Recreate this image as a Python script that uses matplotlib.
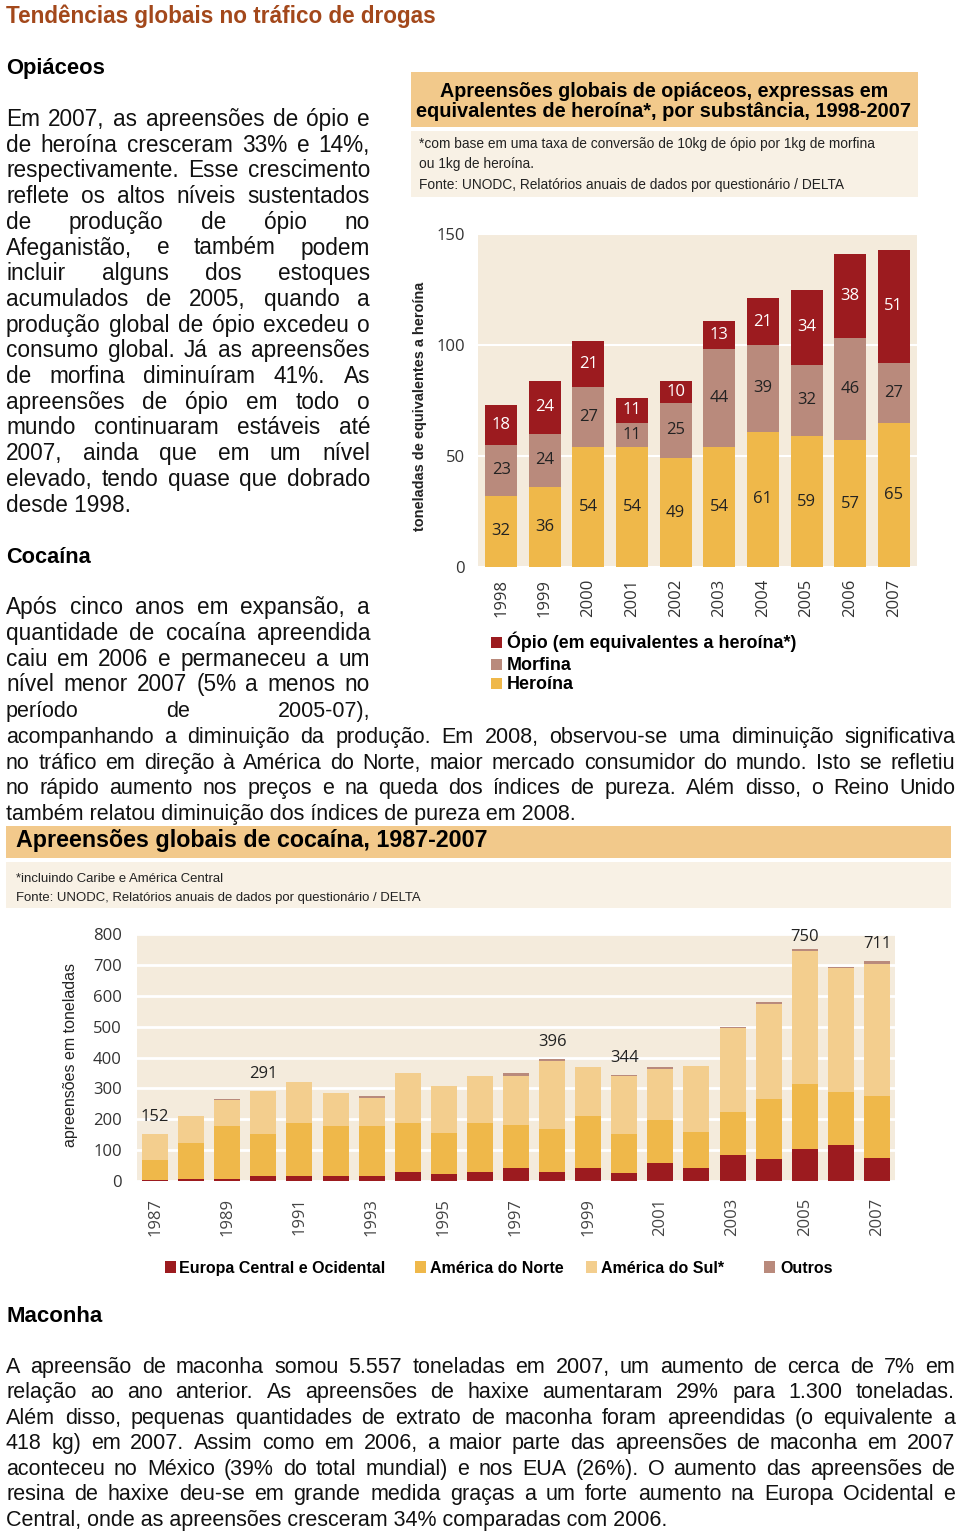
import matplotlib
matplotlib.use('Agg')
import matplotlib.pyplot as plt
from matplotlib.patches import Rectangle
from matplotlib.font_manager import FontProperties, findfont
import numpy as np

W, H = 960, 1535

# ---- dados: opiáceos (toneladas em equivalentes a heroína)
anos_opio = ['1998', '1999', '2000', '2001', '2002', '2003', '2004', '2005', '2006', '2007']
heroina = [32, 36, 54, 54, 49, 54, 61, 59, 57, 65]
morfina = [23, 24, 27, 11, 25, 44, 39, 32, 46, 27]
opio = [18, 24, 21, 11, 10, 13, 21, 34, 38, 51]

# ---- dados: cocaína (toneladas)
anos_coca = list(range(1987, 2008))
europa = [3, 7, 7, 16, 16, 16, 16, 30, 22, 30, 41, 30, 43, 25, 58, 43, 85, 70, 105, 118, 76]
america_norte = [65, 115, 171, 135, 171, 162, 162, 157, 133, 157, 141, 140, 168, 126, 139, 117, 139, 194, 209, 171, 198]
america_sul = [84, 89, 84, 140, 135, 106, 92, 162, 153, 152, 159, 220, 157, 188, 166, 213, 271, 310, 431, 401, 430]
outros = [0, 0, 3, 0, 0, 0, 4, 0, 0, 0, 8, 6, 0, 5, 5, 0, 5, 5, 5, 4, 7]
anos_rotulo = [1987, 1990, 1998, 2000, 2005, 2007]
anos_tick = list(range(1987, 2008, 2))

# cores
VERMELHO = '#9C1B1F'
MORFINA = '#B98A7C'
AMARELO = '#EFB84A'
AREIA = '#F3CE8E'
FUNDO = '#F4EBDC'
CAIXA = '#F2C98B'
NOTA = '#F8F1E5'

try:
    findfont(FontProperties(family='Liberation Sans Narrow'), fallback_to_default=False)
    NARROW = 'Liberation Sans Narrow'
except ValueError:
    NARROW = 'Liberation Sans'
SANS = 'Liberation Sans'
NUM = 'Open Sans'

fig = plt.figure(figsize=(9.6, 15.35), dpi=100)
rend = fig.canvas.get_renderer()


def fx(x):
    return x / W


def fy(y):
    return 1 - y / H


def box(x0, y0, x1, y1, color):
    fig.patches.append(Rectangle((fx(x0), fy(y1)), (x1 - x0) / W, (y1 - y0) / H,
                                 transform=fig.transFigure, facecolor=color,
                                 edgecolor='none', zorder=0))


def fit(s, x, y, w, size=12, rotation=0, **kw):
    # ajusta o tamanho da fonte para a largura medida na imagem
    t = fig.text(fx(x), fy(y), s, fontsize=size, rotation=rotation, **kw)
    bb = t.get_window_extent(rend)
    cur = bb.height if rotation else bb.width
    t.set_fontsize(size * w / cur)
    return size * w / cur


def paragraph(lines, x0, x1, y0, dy, size, family=SANS, justify_last=False):
    for i, line in enumerate(lines):
        y = y0 + i * dy
        if i == len(lines) - 1 and not justify_last:
            fig.text(fx(x0), fy(y), line, fontsize=size, family=family, color='#111111')
            continue
        words = line.split()
        ts = [fig.text(0, fy(y), w_, fontsize=size, family=family, color='#111111') for w_ in words]
        ws = [t.get_window_extent(rend).width for t in ts]
        space = 0.22 * size * 100 / 72
        if sum(ws) + space * (len(ws) - 1) > x1 - x0:
            f = (x1 - x0) / (sum(ws) + space * (len(ws) - 1))
            for t in ts:
                t.set_fontsize(size * f)
            ws = [w_ * f for w_ in ws]
        gap = (x1 - x0 - sum(ws)) / (len(ws) - 1)
        x = x0
        for t, w_ in zip(ts, ws):
            t.set_x(fx(x))
            x += w_ + gap


# ---------------- textos
fit('Tendências globais no tráfico de drogas', 6, 22.7, 428, family=SANS,
    weight='bold', color='#A3481B')
fit('Opiáceos', 6, 74, 98, family=SANS, weight='bold')

txt_opio = [
    'Em 2007, as apreensões de ópio e',
    'de heroína cresceram 33% e 14%,',
    'respectivamente. Esse crescimento',
    'reflete os altos níveis sustentados',
    'de produção de ópio no',
    'Afeganistão, e também podem',
    'incluir alguns dos estoques',
    'acumulados de 2005, quando a',
    'produção global de ópio excedeu o',
    'consumo global. Já as apreensões',
    'de morfina diminuíram 41%. As',
    'apreensões de ópio em todo o',
    'mundo continuaram estáveis até',
    '2007, ainda que em um nível',
    'elevado, tendo quase que dobrado',
    'desde 1998.',
]
paragraph(txt_opio, 6, 370, 126, 25.7, 16.3)

fit('Cocaína', 6, 563, 84, family=SANS, weight='bold')
txt_coca1 = [
    'Após cinco anos em expansão, a',
    'quantidade de cocaína apreendida',
    'caiu em 2006 e permaneceu a um',
    'nível menor 2007 (5% a menos no',
]
paragraph(txt_coca1, 6, 370, 614.3, 25.7, 16.3, justify_last=True)
paragraph(['período de 2005-07),'], 6, 370, 717, 25.7, 15.5, family=NARROW, justify_last=True)
txt_coca2 = [
    'acompanhando a diminuição da produção. Em 2008, observou-se uma diminuição significativa',
    'no tráfico em direção à América do Norte, maior mercado consumidor do mundo. Isto se refletiu',
    'no rápido aumento nos preços e na queda dos índices de pureza. Além disso, o Reino Unido',
    'também relatou diminuição dos índices de pureza em 2008.',
]
paragraph(txt_coca2, 6, 955, 742.7, 25.8, 15.5, family=NARROW)

fit('Maconha', 6, 1321.7, 96, family=NARROW, weight='bold')
txt_maconha = [
    'A apreensão de maconha somou 5.557 toneladas em 2007, um aumento de cerca de 7% em',
    'relação ao ano anterior. As apreensões de haxixe aumentaram 29% para 1.300 toneladas.',
    'Além disso, pequenas quantidades de extrato de maconha foram apreendidas (o equivalente a',
    '418 kg) em 2007. Assim como em 2006, a maior parte das apreensões de maconha em 2007',
    'aconteceu no México (39% do total mundial) e nos EUA (26%). O aumento das apreensões de',
    'resina de haxixe deu-se em grande medida graças a um forte aumento na Europa Ocidental e',
    'Central, onde as apreensões cresceram 34% comparadas com 2006.',
]
paragraph(txt_maconha, 6, 955, 1372.7, 25.55, 15.5, family=NARROW)

# ---------------- gráfico dos opiáceos
box(411, 72, 918, 127, CAIXA)
box(411, 131, 918, 197, NOTA)
fit('Apreensões globais de opiáceos, expressas em', 664, 96.7, 445, family=SANS,
    weight='heavy', ha='center')
fit('equivalentes de heroína*, por substância, 1998-2007', 664, 116.7, 492, family=SANS,
    weight='heavy', ha='center')
s_nota = fit('*com base em uma taxa de conversão de 10kg de ópio por 1kg de morfina',
             419, 148, 456, family=NARROW, color='#222222')
fig.text(fx(419), fy(168), 'ou 1kg de heroína.', fontsize=s_nota, family=NARROW, color='#222222')
fig.text(fx(419), fy(189), 'Fonte: UNODC, Relatórios anuais de dados por questionário / DELTA',
         fontsize=s_nota, family=NARROW, color='#222222')

ax1 = fig.add_axes([fx(478), fy(567), (917 - 478) / W, (567 - 234) / H])
ax1.set_facecolor(FUNDO)
x = np.arange(len(anos_opio))
base2 = np.add(heroina, morfina)
ax1.bar(x, heroina, 0.73, color=AMARELO, zorder=3)
ax1.bar(x, morfina, 0.73, bottom=heroina, color=MORFINA, zorder=3)
ax1.bar(x, opio, 0.73, bottom=base2, color=VERMELHO, zorder=3)
for i in range(len(x)):
    ax1.text(x[i], heroina[i] / 2, str(heroina[i]), ha='center', va='center',
             fontsize=12, family=NUM, color='#222222', zorder=4)
    ax1.text(x[i], heroina[i] + morfina[i] / 2, str(morfina[i]), ha='center', va='center',
             fontsize=12, family=NUM, color='#222222', zorder=4)
    ax1.text(x[i], base2[i] + opio[i] / 2, str(opio[i]), ha='center', va='center',
             fontsize=12, family=NUM, color='white', zorder=4)
ax1.set_xlim(-0.53, 9.53)
ax1.set_ylim(0, 150)
ax1.set_yticks([0, 50, 100, 150])
ax1.set_xticks(x)
ax1.set_xticklabels(anos_opio, rotation=90, family=NUM, fontsize=12, color='#333333')
ax1.set_yticklabels(['0', '50', '100', '150'], family=NUM, fontsize=12, color='#333333')
ax1.tick_params(length=0)
ax1.tick_params(axis='x', pad=8.6)
ax1.tick_params(axis='y', pad=9.4)
ax1.grid(axis='y', color='white', lw=1.5, zorder=1)
ax1.set_axisbelow(True)
for sp in ax1.spines.values():
    sp.set_visible(False)
fit('toneladas de equivalentes a heroína', 427, 406, 248, rotation=90, family=SANS,
    weight='bold', ha='right', va='center', color='#222222')

# legenda dos opiáceos
leg_op = [('Ópio (em equivalentes a heroína*)', VERMELHO, 647.7),
          ('Morfina', MORFINA, 670),
          ('Heroína', AMARELO, 689.3)]
s_leg = None
for nome, cor, yb in leg_op:
    box(491, yb - 11, 502, yb, cor)
    if s_leg is None:
        s_leg = fit(nome, 507, yb, 286, family=SANS, weight='bold')
    else:
        fig.text(fx(507), fy(yb), nome, fontsize=s_leg, family=SANS, weight='bold')

# ---------------- gráfico da cocaína
box(6, 826, 951, 858, CAIXA)
box(6, 862, 951, 908, NOTA)
fit('Apreensões globais de cocaína, 1987-2007', 16, 846.7, 470, family=NARROW, weight='bold')
s_n2 = fit('Fonte: UNODC, Relatórios anuais de dados por questionário / DELTA', 16, 901.5, 405,
           family=NARROW, color='#222222')
fig.text(fx(16), fy(882.5), '*incluindo Caribe e América Central', fontsize=s_n2,
         family=NARROW, color='#222222')

ax2 = fig.add_axes([fx(137), fy(1181), (895 - 137) / W, (1181 - 934) / H])
ax2.set_facecolor(FUNDO)
b1 = np.array(europa)
b2 = b1 + np.array(america_norte)
b3 = b2 + np.array(america_sul)
ax2.bar(anos_coca, europa, 0.72, color=VERMELHO, zorder=3)
ax2.bar(anos_coca, america_norte, 0.72, bottom=b1, color=AMARELO, zorder=3)
ax2.bar(anos_coca, america_sul, 0.72, bottom=b2, color=AREIA, zorder=3)
ax2.bar(anos_coca, outros, 0.72, bottom=b3, color=MORFINA, zorder=3)
total = b3 + np.array(outros)
for ano in anos_rotulo:
    i = anos_coca.index(ano)
    dy = 3 if total[i] > 740 else 6.5
    ax2.annotate(str(total[i]), (ano, total[i]), xytext=(0, dy), textcoords='offset points',
                 ha='center', va='bottom', fontsize=12, family=NUM, color='#222222',
                 annotation_clip=False)
ax2.set_xlim(1986.5, 2007.5)
ax2.set_ylim(0, 800)
ax2.set_yticks(range(0, 801, 100))
ax2.set_yticklabels([str(v) for v in range(0, 801, 100)], family=NUM, fontsize=12, color='#333333')
ax2.set_xticks(anos_tick)
ax2.set_xticklabels([str(a) for a in anos_tick], rotation=90, family=NUM, fontsize=12,
                    color='#444444')
ax2.tick_params(length=0)
ax2.tick_params(axis='x', pad=12)
ax2.tick_params(axis='y', pad=11)
ax2.grid(axis='y', color='white', lw=2, zorder=1)
ax2.set_axisbelow(True)
for sp in ax2.spines.values():
    sp.set_visible(False)
fit('apreensões em toneladas', 70, 1055, 184, rotation=90, family=SANS,
    ha='center', va='center', color='#222222')

# legenda da cocaína
leg_coca = [('Europa Central e Ocidental', VERMELHO, 165, 179),
            ('América do Norte', AMARELO, 415, 430),
            ('América do Sul*', AREIA, 586, 601),
            ('Outros', MORFINA, 764, 780)]
s_lc = None
for nome, cor, xq, xt in leg_coca:
    box(xq, 1261, xq + 11, 1273, cor)
    if s_lc is None:
        s_lc = fit(nome, xt, 1273, 205, family=NARROW, weight='bold')
    else:
        fig.text(fx(xt), fy(1273), nome, fontsize=s_lc, family=NARROW, weight='bold')

fig.savefig('out.png', dpi=100)
